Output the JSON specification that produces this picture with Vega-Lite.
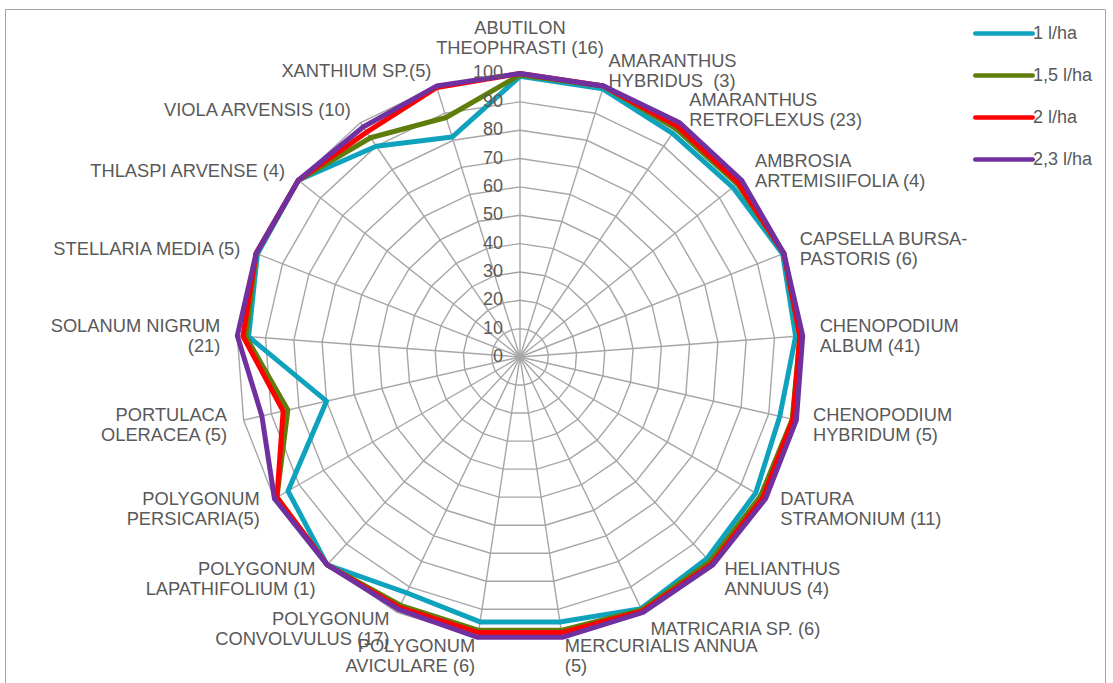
{
  "$schema": "https://vega.github.io/schema/vega-lite/v6.json",
  "width": 1100,
  "height": 674,
  "autosize": {"type": "none"},
  "padding": {"left": 5, "top": 9, "right": 8, "bottom": 0},
  "background": "white",
  "config": {"view": {"stroke": "#a6a6a6", "strokeWidth": 1}},
  "datasets": {
    "cats": [
      {"weed": "ABUTILON THEOPHRASTI (16)", "label": "ABUTILON\nTHEOPHRASTI (16)"},
      {"weed": "AMARANTHUS HYBRIDUS (3)", "label": "AMARANTHUS\nHYBRIDUS \u00a0(3)"},
      {"weed": "AMARANTHUS RETROFLEXUS (23)", "label": "AMARANTHUS\nRETROFLEXUS (23)"},
      {"weed": "AMBROSIA ARTEMISIIFOLIA (4)", "label": "AMBROSIA\nARTEMISIIFOLIA (4)"},
      {"weed": "CAPSELLA BURSA-PASTORIS (6)", "label": "CAPSELLA BURSA-\nPASTORIS (6)"},
      {"weed": "CHENOPODIUM ALBUM (41)", "label": "CHENOPODIUM\nALBUM (41)"},
      {"weed": "CHENOPODIUM HYBRIDUM (5)", "label": "CHENOPODIUM\nHYBRIDUM (5)"},
      {"weed": "DATURA STRAMONIUM (11)", "label": "DATURA\nSTRAMONIUM (11)"},
      {"weed": "HELIANTHUS ANNUUS (4)", "label": "HELIANTHUS\nANNUUS (4)"},
      {"weed": "MATRICARIA SP. (6)", "label": "MATRICARIA SP. (6)"},
      {"weed": "MERCURIALIS ANNUA (5)", "label": "MERCURIALIS ANNUA\n(5)"},
      {"weed": "POLYGONUM AVICULARE (6)", "label": "POLYGONUM\nAVICULARE (6)"},
      {"weed": "POLYGONUM CONVOLVULUS (17)", "label": "POLYGONUM\nCONVOLVULUS (17)"},
      {"weed": "POLYGONUM LAPATHIFOLIUM (1)", "label": "POLYGONUM\nLAPATHIFOLIUM (1)"},
      {"weed": "POLYGONUM PERSICARIA(5)", "label": "POLYGONUM\nPERSICARIA(5)"},
      {"weed": "PORTULACA OLERACEA (5)", "label": "PORTULACA\nOLERACEA (5)"},
      {"weed": "SOLANUM NIGRUM (21)", "label": "SOLANUM NIGRUM\n(21)"},
      {"weed": "STELLARIA MEDIA (5)", "label": "STELLARIA MEDIA (5)"},
      {"weed": "THLASPI ARVENSE (4)", "label": "THLASPI ARVENSE (4)"},
      {"weed": "VIOLA ARVENSIS (10)", "label": "VIOLA ARVENSIS (10)"},
      {"weed": "XANTHIUM SP.(5)", "label": "XANTHIUM SP.(5)"}
    ],
    "eff": [
      {"weed": "ABUTILON THEOPHRASTI (16)", "dose": "1 l/ha", "efficacy": 99},
      {"weed": "AMARANTHUS HYBRIDUS (3)", "dose": "1 l/ha", "efficacy": 99},
      {"weed": "AMARANTHUS RETROFLEXUS (23)", "dose": "1 l/ha", "efficacy": 95.5},
      {"weed": "AMBROSIA ARTEMISIIFOLIA (4)", "dose": "1 l/ha", "efficacy": 96},
      {"weed": "CAPSELLA BURSA-PASTORIS (6)", "dose": "1 l/ha", "efficacy": 99.5},
      {"weed": "CHENOPODIUM ALBUM (41)", "dose": "1 l/ha", "efficacy": 97.5},
      {"weed": "CHENOPODIUM HYBRIDUM (5)", "dose": "1 l/ha", "efficacy": 94},
      {"weed": "DATURA STRAMONIUM (11)", "dose": "1 l/ha", "efficacy": 96},
      {"weed": "HELIANTHUS ANNUUS (4)", "dose": "1 l/ha", "efficacy": 97},
      {"weed": "MATRICARIA SP. (6)", "dose": "1 l/ha", "efficacy": 98.5},
      {"weed": "MERCURIALIS ANNUA (5)", "dose": "1 l/ha", "efficacy": 94.5},
      {"weed": "POLYGONUM AVICULARE (6)", "dose": "1 l/ha", "efficacy": 94.5},
      {"weed": "POLYGONUM CONVOLVULUS (17)", "dose": "1 l/ha", "efficacy": 92.3},
      {"weed": "POLYGONUM LAPATHIFOLIUM (1)", "dose": "1 l/ha", "efficacy": 100},
      {"weed": "POLYGONUM PERSICARIA(5)", "dose": "1 l/ha", "efficacy": 94.5},
      {"weed": "PORTULACA OLERACEA (5)", "dose": "1 l/ha", "efficacy": 70},
      {"weed": "SOLANUM NIGRUM (21)", "dose": "1 l/ha", "efficacy": 96},
      {"weed": "STELLARIA MEDIA (5)", "dose": "1 l/ha", "efficacy": 99.5},
      {"weed": "THLASPI ARVENSE (4)", "dose": "1 l/ha", "efficacy": 100},
      {"weed": "VIOLA ARVENSIS (10)", "dose": "1 l/ha", "efficacy": 90},
      {"weed": "XANTHIUM SP.(5)", "dose": "1 l/ha", "efficacy": 81.2},

      {"weed": "ABUTILON THEOPHRASTI (16)", "dose": "1,5 l/ha", "efficacy": 99.5},
      {"weed": "AMARANTHUS HYBRIDUS (3)", "dose": "1,5 l/ha", "efficacy": 100},
      {"weed": "AMARANTHUS RETROFLEXUS (23)", "dose": "1,5 l/ha", "efficacy": 97.5},
      {"weed": "AMBROSIA ARTEMISIIFOLIA (4)", "dose": "1,5 l/ha", "efficacy": 98},
      {"weed": "CAPSELLA BURSA-PASTORIS (6)", "dose": "1,5 l/ha", "efficacy": 100},
      {"weed": "CHENOPODIUM ALBUM (41)", "dose": "1,5 l/ha", "efficacy": 99},
      {"weed": "CHENOPODIUM HYBRIDUM (5)", "dose": "1,5 l/ha", "efficacy": 98.5},
      {"weed": "DATURA STRAMONIUM (11)", "dose": "1,5 l/ha", "efficacy": 98},
      {"weed": "HELIANTHUS ANNUUS (4)", "dose": "1,5 l/ha", "efficacy": 98.5},
      {"weed": "MATRICARIA SP. (6)", "dose": "1,5 l/ha", "efficacy": 99},
      {"weed": "MERCURIALIS ANNUA (5)", "dose": "1,5 l/ha", "efficacy": 97.5},
      {"weed": "POLYGONUM AVICULARE (6)", "dose": "1,5 l/ha", "efficacy": 97.5},
      {"weed": "POLYGONUM CONVOLVULUS (17)", "dose": "1,5 l/ha", "efficacy": 97.2},
      {"weed": "POLYGONUM LAPATHIFOLIUM (1)", "dose": "1,5 l/ha", "efficacy": 100},
      {"weed": "POLYGONUM PERSICARIA(5)", "dose": "1,5 l/ha", "efficacy": 99},
      {"weed": "PORTULACA OLERACEA (5)", "dose": "1,5 l/ha", "efficacy": 84},
      {"weed": "SOLANUM NIGRUM (21)", "dose": "1,5 l/ha", "efficacy": 97},
      {"weed": "STELLARIA MEDIA (5)", "dose": "1,5 l/ha", "efficacy": 100},
      {"weed": "THLASPI ARVENSE (4)", "dose": "1,5 l/ha", "efficacy": 100},
      {"weed": "VIOLA ARVENSIS (10)", "dose": "1,5 l/ha", "efficacy": 93.6},
      {"weed": "XANTHIUM SP.(5)", "dose": "1,5 l/ha", "efficacy": 88.4},

      {"weed": "ABUTILON THEOPHRASTI (16)", "dose": "2 l/ha", "efficacy": 100},
      {"weed": "AMARANTHUS HYBRIDUS (3)", "dose": "2 l/ha", "efficacy": 100},
      {"weed": "AMARANTHUS RETROFLEXUS (23)", "dose": "2 l/ha", "efficacy": 98.5},
      {"weed": "AMBROSIA ARTEMISIIFOLIA (4)", "dose": "2 l/ha", "efficacy": 98.5},
      {"weed": "CAPSELLA BURSA-PASTORIS (6)", "dose": "2 l/ha", "efficacy": 100},
      {"weed": "CHENOPODIUM ALBUM (41)", "dose": "2 l/ha", "efficacy": 99},
      {"weed": "CHENOPODIUM HYBRIDUM (5)", "dose": "2 l/ha", "efficacy": 98.7},
      {"weed": "DATURA STRAMONIUM (11)", "dose": "2 l/ha", "efficacy": 99},
      {"weed": "HELIANTHUS ANNUUS (4)", "dose": "2 l/ha", "efficacy": 99.5},
      {"weed": "MATRICARIA SP. (6)", "dose": "2 l/ha", "efficacy": 99.5},
      {"weed": "MERCURIALIS ANNUA (5)", "dose": "2 l/ha", "efficacy": 98.3},
      {"weed": "POLYGONUM AVICULARE (6)", "dose": "2 l/ha", "efficacy": 98.3},
      {"weed": "POLYGONUM CONVOLVULUS (17)", "dose": "2 l/ha", "efficacy": 98},
      {"weed": "POLYGONUM LAPATHIFOLIUM (1)", "dose": "2 l/ha", "efficacy": 100},
      {"weed": "POLYGONUM PERSICARIA(5)", "dose": "2 l/ha", "efficacy": 99},
      {"weed": "PORTULACA OLERACEA (5)", "dose": "2 l/ha", "efficacy": 85.7},
      {"weed": "SOLANUM NIGRUM (21)", "dose": "2 l/ha", "efficacy": 98},
      {"weed": "STELLARIA MEDIA (5)", "dose": "2 l/ha", "efficacy": 100},
      {"weed": "THLASPI ARVENSE (4)", "dose": "2 l/ha", "efficacy": 100},
      {"weed": "VIOLA ARVENSIS (10)", "dose": "2 l/ha", "efficacy": 96},
      {"weed": "XANTHIUM SP.(5)", "dose": "2 l/ha", "efficacy": 99.5},

      {"weed": "ABUTILON THEOPHRASTI (16)", "dose": "2,3 l/ha", "efficacy": 100},
      {"weed": "AMARANTHUS HYBRIDUS (3)", "dose": "2,3 l/ha", "efficacy": 100},
      {"weed": "AMARANTHUS RETROFLEXUS (23)", "dose": "2,3 l/ha", "efficacy": 100},
      {"weed": "AMBROSIA ARTEMISIIFOLIA (4)", "dose": "2,3 l/ha", "efficacy": 100},
      {"weed": "CAPSELLA BURSA-PASTORIS (6)", "dose": "2,3 l/ha", "efficacy": 100},
      {"weed": "CHENOPODIUM ALBUM (41)", "dose": "2,3 l/ha", "efficacy": 100},
      {"weed": "CHENOPODIUM HYBRIDUM (5)", "dose": "2,3 l/ha", "efficacy": 100},
      {"weed": "DATURA STRAMONIUM (11)", "dose": "2,3 l/ha", "efficacy": 100},
      {"weed": "HELIANTHUS ANNUUS (4)", "dose": "2,3 l/ha", "efficacy": 100},
      {"weed": "MATRICARIA SP. (6)", "dose": "2,3 l/ha", "efficacy": 100},
      {"weed": "MERCURIALIS ANNUA (5)", "dose": "2,3 l/ha", "efficacy": 100},
      {"weed": "POLYGONUM AVICULARE (6)", "dose": "2,3 l/ha", "efficacy": 100},
      {"weed": "POLYGONUM CONVOLVULUS (17)", "dose": "2,3 l/ha", "efficacy": 98.8},
      {"weed": "POLYGONUM LAPATHIFOLIUM (1)", "dose": "2,3 l/ha", "efficacy": 100},
      {"weed": "POLYGONUM PERSICARIA(5)", "dose": "2,3 l/ha", "efficacy": 100},
      {"weed": "PORTULACA OLERACEA (5)", "dose": "2,3 l/ha", "efficacy": 93.4},
      {"weed": "SOLANUM NIGRUM (21)", "dose": "2,3 l/ha", "efficacy": 100},
      {"weed": "STELLARIA MEDIA (5)", "dose": "2,3 l/ha", "efficacy": 100},
      {"weed": "THLASPI ARVENSE (4)", "dose": "2,3 l/ha", "efficacy": 100},
      {"weed": "VIOLA ARVENSIS (10)", "dose": "2,3 l/ha", "efficacy": 98.2},
      {"weed": "XANTHIUM SP.(5)", "dose": "2,3 l/ha", "efficacy": 100}
    ],
    "ticks": [
      {"tick": 0}, {"tick": 10}, {"tick": 20}, {"tick": 30}, {"tick": 40}, {"tick": 50},
      {"tick": 60}, {"tick": 70}, {"tick": 80}, {"tick": 90}, {"tick": 100}
    ]
  },
  "encoding": {
    "x": {"field": "px", "type": "quantitative", "scale": {"domain": [-181.658, 206.349], "nice": false, "zero": false}, "axis": null},
    "y": {"field": "py", "type": "quantitative", "scale": {"domain": [-114.991, 122.751], "nice": false, "zero": false}, "axis": null}
  },
  "layer": [
    {
      "data": {"name": "cats"},
      "transform": [
        {"window": [{"op": "row_number", "as": "rn"}]},
        {"calculate": "(datum.rn - 1) * 2 * PI / 21", "as": "ang"},
        {"calculate": "[10, 20, 30, 40, 50, 60, 70, 80, 90, 100]", "as": "lv"},
        {"flatten": ["lv"]},
        {"calculate": "datum.lv * sin(datum.ang)", "as": "px"},
        {"calculate": "datum.lv * cos(datum.ang)", "as": "py"}
      ],
      "mark": {"type": "line", "interpolate": "linear-closed", "stroke": "#a6a6a6", "strokeWidth": 1.4},
      "encoding": {
        "detail": {"field": "lv", "type": "nominal"},
        "order": {"field": "rn", "type": "quantitative"}
      }
    },
    {
      "data": {"name": "cats"},
      "transform": [
        {"window": [{"op": "row_number", "as": "rn"}]},
        {"calculate": "(datum.rn - 1) * 2 * PI / 21", "as": "ang"},
        {"calculate": "100 * sin(datum.ang)", "as": "px"},
        {"calculate": "100 * cos(datum.ang)", "as": "py"}
      ],
      "mark": {"type": "rule", "stroke": "#a6a6a6", "strokeWidth": 1.4},
      "encoding": {
        "x2": {"datum": 0},
        "y2": {"datum": 0}
      }
    },
    {
      "data": {"name": "eff"},
      "transform": [
        {"window": [{"op": "row_number", "as": "rn"}], "groupby": ["dose"]},
        {"calculate": "(datum.rn - 1) * 2 * PI / 21", "as": "ang"},
        {"calculate": "datum.efficacy * sin(datum.ang)", "as": "px"},
        {"calculate": "datum.efficacy * cos(datum.ang)", "as": "py"}
      ],
      "mark": {"type": "line", "interpolate": "linear-closed", "strokeWidth": 5, "strokeJoin": "round"},
      "encoding": {
        "order": {"field": "rn", "type": "quantitative"},
        "color": {
          "field": "dose",
          "type": "nominal",
          "scale": {"domain": ["1 l/ha", "1,5 l/ha", "2 l/ha", "2,3 l/ha"], "range": ["#0ea2bd", "#5f7d0a", "#ff0000", "#7030a0"]},
          "legend": {
            "title": null,
            "orient": "none",
            "legendX": 976,
            "legendY": 1.5,
            "padding": 0,
            "symbolType": "M-1.4,0L1.4,0",
            "symbolSize": 1681,
            "symbolStrokeWidth": 4.5,
            "labelFont": "Liberation Sans",
            "labelFontSize": 18,
            "labelColor": "#595959",
            "labelOffset": 6,
            "rowPadding": 10,
            "labelLimit": 300,
            "encode": {"symbols": {"update": {"strokeCap": {"value": "round"}, "fill": {"value": "transparent"}}}}
          }
        }
      }
    },
    {
      "data": {"name": "ticks"},
      "transform": [
        {"calculate": "0", "as": "px"},
        {"calculate": "datum.tick", "as": "py"}
      ],
      "mark": {"type": "text", "align": "right", "baseline": "middle", "dx": -17, "font": "Liberation Sans", "fontSize": 18, "color": "#595959"},
      "encoding": {
        "text": {"field": "tick", "type": "quantitative"}
      }
    },
    {
      "data": {"name": "cats"},
      "transform": [
        {"window": [{"op": "row_number", "as": "rn"}]},
        {"filter": "datum.rn == 1"},
        {"calculate": "(datum.rn - 1) * 2 * PI / 21", "as": "ang"},
        {"calculate": "106 * sin(datum.ang)", "as": "px"},
        {"calculate": "106 * cos(datum.ang) - 0.9 + (indexof(datum.label, '\\n') >= 0 ? 3.53 : 0)", "as": "py"}
      ],
      "mark": {"type": "text", "align": "center", "baseline": "middle", "dy": -20, "lineBreak": "\n", "lineHeight": 20, "font": "Liberation Sans", "fontSize": 18.3, "color": "#595959"},
      "encoding": {"text": {"field": "label"}}
    },
    {
      "data": {"name": "cats"},
      "transform": [
        {"window": [{"op": "row_number", "as": "rn"}]},
        {"filter": "datum.rn >= 2 && datum.rn <= 11"},
        {"calculate": "(datum.rn - 1) * 2 * PI / 21", "as": "ang"},
        {"calculate": "106 * sin(datum.ang)", "as": "px"},
        {"calculate": "106 * cos(datum.ang) - 0.9 + (indexof(datum.label, '\\n') >= 0 ? 3.53 : 0)", "as": "py"}
      ],
      "mark": {"type": "text", "align": "left", "baseline": "middle", "lineBreak": "\n", "lineHeight": 20, "font": "Liberation Sans", "fontSize": 18.3, "color": "#595959"},
      "encoding": {"text": {"field": "label"}}
    },
    {
      "data": {"name": "cats"},
      "transform": [
        {"window": [{"op": "row_number", "as": "rn"}]},
        {"filter": "datum.rn >= 12"},
        {"calculate": "(datum.rn - 1) * 2 * PI / 21", "as": "ang"},
        {"calculate": "106 * sin(datum.ang)", "as": "px"},
        {"calculate": "106 * cos(datum.ang) - 0.9 + (indexof(datum.label, '\\n') >= 0 ? 3.53 : 0)", "as": "py"}
      ],
      "mark": {"type": "text", "align": "right", "baseline": "middle", "lineBreak": "\n", "lineHeight": 20, "font": "Liberation Sans", "fontSize": 18.3, "color": "#595959"},
      "encoding": {"text": {"field": "label"}}
    }
  ]
}
